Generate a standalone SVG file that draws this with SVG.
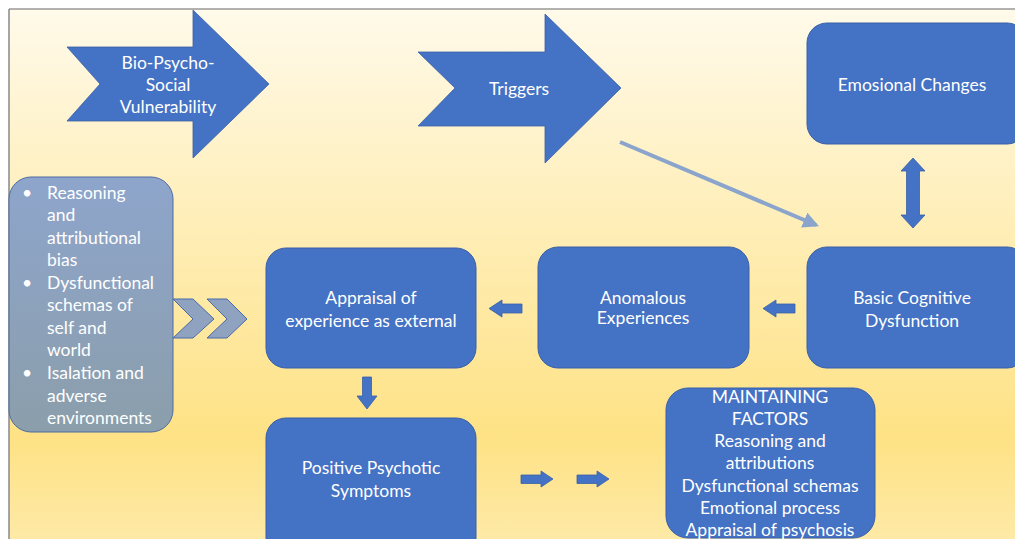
<svg xmlns="http://www.w3.org/2000/svg" width="1015" height="539" viewBox="0 0 1015 539">
<defs>
<linearGradient id="bg" x1="0" y1="0" x2="0" y2="1">
<stop offset="0" stop-color="#fffaea"/>
<stop offset="0.8" stop-color="#fee285"/>
<stop offset="1" stop-color="#feeaa8"/>
</linearGradient>
<linearGradient id="lb" x1="0" y1="0" x2="0" y2="1">
<stop offset="0" stop-color="#8ea5cc"/>
<stop offset="1" stop-color="#8b9eab"/>
</linearGradient>
<marker id="ah" viewBox="0 0 10 10" refX="8" refY="5" markerWidth="4" markerHeight="4" orient="auto" markerUnits="strokeWidth">
<path d="M0,0 L10,5 L0,10 z" fill="#8aa4cc"/>
</marker>
<style>
.box{fill:#4472c4;stroke:#3a60a8;stroke-width:1}
.blk{fill:#4472c4;stroke:#3a60a8;stroke-width:0.8}
.t{font-family:Lato,"Open Sans",sans-serif;font-size:17.5px;fill:#ffffff;text-anchor:middle;dominant-baseline:central}
.tl{font-family:Lato,"Open Sans",sans-serif;font-size:17.5px;fill:#ffffff;dominant-baseline:central}
.chev{fill:#8fa2c0;stroke:#4a6aaa;stroke-width:1}
</style>
</defs>
<rect x="0" y="0" width="1015" height="539" fill="#ffffff"/>
<rect x="9" y="9" width="1010" height="535" fill="url(#bg)"/>
<line x1="9" y1="9" x2="1015" y2="9" stroke="#666" stroke-width="1.2"/>
<line x1="9" y1="9" x2="9" y2="539" stroke="#888" stroke-width="1.5"/>

<g id="connectors">
<line x1="620" y1="142" x2="816" y2="225" stroke="#8aa4cc" stroke-width="4" marker-end="url(#ah)"/>
<polygon class="blk" points="913,158 925,171 919.5,171 919.5,215 925,215 913,228 901,215 906.5,215 906.5,171 901,171"/>
<polygon class="blk" points="763,308.5 776,300 776,304 795,304 795,313 776,313 776,317"/>
<polygon class="blk" points="489,308.5 502,300 502,304 522,304 522,313 502,313 502,317"/>
<polygon class="blk" points="367,409 357,396 362.5,396 362.5,377 371.5,377 371.5,396 377,396"/>
<polygon class="blk" points="553,479 541,471 541,475 521,475 521,483.5 541,483.5 541,487"/>
<polygon class="blk" points="609,479 597,471 597,475 577,475 577,483.5 597,483.5 597,487"/>
<polygon class="chev" points="207,299 227,299 247,319 227,338 207,338 227,319"/>
<polygon class="chev" points="173,299 193,299 214,319 193,338 173,338 193,319"/>
</g>

<g id="bio">
<polygon class="blk" points="67,47 193,47 193,10 269,84 193,158 193,121 67,121 100,84"/>
<text class="t" x="168" y="62">Bio-Psycho-</text>
<text class="t" x="168" y="84">Social</text>
<text class="t" x="168" y="106">Vulnerability</text>
</g>

<g id="triggers">
<polygon class="blk" points="418,52 545,52 545,14 621,88 545,163 545,126 418,126 455,88"/>
<text class="t" x="519" y="88">Triggers</text>
</g>

<g id="emosional">
<rect class="box" x="807" y="23" width="220" height="121" rx="20"/>
<text class="t" x="912" y="84">Emosional Changes</text>
</g>

<g id="basic">
<rect class="box" x="807" y="247" width="220" height="121" rx="20"/>
<text class="t" x="912" y="297">Basic Cognitive</text>
<text class="t" x="912" y="320">Dysfunction</text>
</g>

<g id="anomalous">
<rect class="box" x="538" y="247" width="211" height="121" rx="20"/>
<text class="t" x="643" y="297">Anomalous</text>
<text class="t" x="643" y="317">Experiences</text>
</g>

<g id="appraisal">
<rect class="box" x="266" y="248" width="210" height="120" rx="20"/>
<text class="t" x="371" y="297">Appraisal of</text>
<text class="t" x="371" y="320">experience as external</text>
</g>

<g id="positive">
<rect class="box" x="266" y="418" width="210" height="140" rx="20"/>
<text class="t" x="371" y="467">Positive Psychotic</text>
<text class="t" x="371" y="490">Symptoms</text>
</g>

<g id="maintaining">
<rect class="box" x="666" y="388" width="209" height="150" rx="22"/>
<text class="t" x="770" y="396">MAINTAINING</text>
<text class="t" x="770" y="418">FACTORS</text>
<text class="t" x="770" y="440">Reasoning and</text>
<text class="t" x="770" y="462">attributions</text>
<text class="t" x="770" y="485">Dysfunctional schemas</text>
<text class="t" x="770" y="507">Emotional process</text>
<text class="t" x="770" y="529">Appraisal of psychosis</text>
</g>

<g id="factors">
<rect x="9" y="177" width="164" height="255" rx="22" fill="url(#lb)" stroke="#4c6aa4" stroke-width="1"/>
<text class="tl" x="22" y="192">•</text>
<text class="tl" x="47" y="192">Reasoning</text>
<text class="tl" x="47" y="214">and</text>
<text class="tl" x="47" y="237">attributional</text>
<text class="tl" x="47" y="259">bias</text>
<text class="tl" x="22" y="282">•</text>
<text class="tl" x="47" y="282">Dysfunctional</text>
<text class="tl" x="47" y="304">schemas of</text>
<text class="tl" x="47" y="327">self and</text>
<text class="tl" x="47" y="349">world</text>
<text class="tl" x="22" y="372">•</text>
<text class="tl" x="47" y="372">Isalation and</text>
<text class="tl" x="47" y="395">adverse</text>
<text class="tl" x="47" y="417">environments</text>
</g>
</svg>
